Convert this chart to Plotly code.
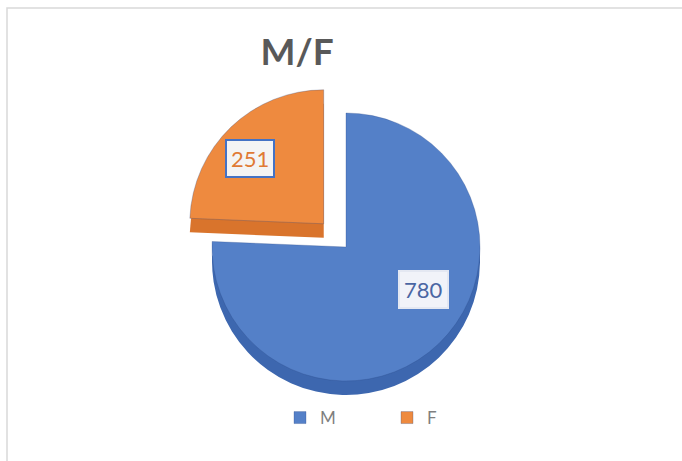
import plotly.graph_objects as go

# Headcount split by sex
labels = ["M", "F"]
values = [780, 251]

top_colors = ["#5480C8", "#EE8A3F"]
side_colors = ["#3D67AF", "#D9742C"]
pull = [0, 0.24]

W, H = 682, 461


def px_x(x):
    return x / W


def px_y(y):
    return 1 - y / H


# pie box in pixels (top face); the side wall sits a few pixels lower
cx, cy, R = 346, 247, 134
half = R * (1 + max(pull))
depth = 14
dom_x = [px_x(cx - half), px_x(cx + half)]
dom_top = [px_y(cy + half), px_y(cy - half)]
dom_side = [px_y(cy + half + depth), px_y(cy - half + depth)]

fig = go.Figure()

# darker copy underneath gives the pie its thickness
fig.add_trace(go.Pie(
    labels=labels, values=values, sort=False, direction="clockwise", rotation=0,
    pull=pull, domain=dict(x=dom_x, y=dom_side),
    marker=dict(colors=side_colors, line=dict(width=0)),
    textinfo="none", hoverinfo="skip", showlegend=False,
))

fig.add_trace(go.Pie(
    labels=labels, values=values, sort=False, direction="clockwise", rotation=0,
    pull=pull, domain=dict(x=dom_x, y=dom_top),
    marker=dict(colors=top_colors, line=dict(width=0.8, color="rgba(40,70,130,0.35)")),
    textinfo="none", showlegend=True,
))

# boxed value labels
label_pos = {"M": (423, 289), "F": (250, 158)}
label_style = {
    "M": dict(color="#4A66A3", border="#E4E8F2", bg="#F1F3F9"),
    "F": dict(color="#E07A34", border="#4472C4", bg="#F4F4F4"),
}
annotations = []
for lab, val in zip(labels, values):
    x, y = label_pos[lab]
    st = label_style[lab]
    annotations.append(dict(
        x=px_x(x), y=px_y(y), xref="paper", yref="paper",
        text=str(val), showarrow=False,
        font=dict(family="Lato, Open Sans, sans-serif", size=22, color=st["color"]),
        bgcolor=st["bg"], bordercolor=st["border"], borderwidth=2, borderpad=4,
        xanchor="center", yanchor="middle",
    ))

fig.update_layout(
    width=W, height=H,
    margin=dict(l=0, r=0, t=0, b=0),
    paper_bgcolor="white",
    title=dict(
        text="<b>M/F</b>", x=px_x(297), y=px_y(52), xanchor="center", yanchor="middle",
        font=dict(family="Lato, Open Sans, sans-serif", size=37, color="#595959"),
    ),
    legend=dict(
        orientation="h", x=px_x(280), y=px_y(418), xanchor="left", yanchor="middle",
        font=dict(family="Lato, Open Sans, sans-serif", size=17, color="#7F7F7F"),
        entrywidth=62, itemwidth=30, bgcolor="rgba(0,0,0,0)",
    ),
    annotations=annotations,
    shapes=[dict(
        type="rect", xref="paper", yref="paper",
        x0=px_x(7), x1=1.2, y0=-0.2, y1=px_y(8),
        line=dict(color="#D9D9D9", width=1.5), fillcolor="rgba(0,0,0,0)", layer="below",
    )],
)

fig.write_html("out.html")
